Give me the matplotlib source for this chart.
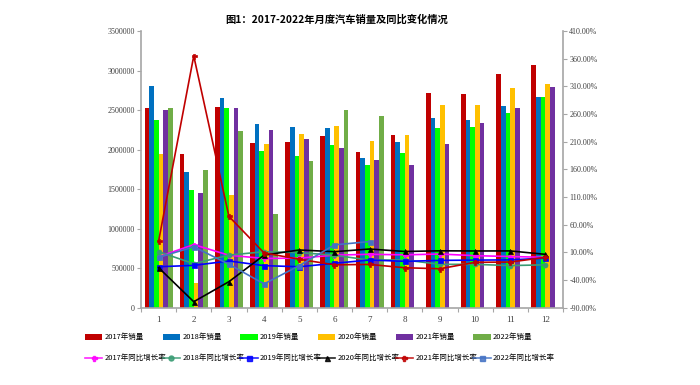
import matplotlib
matplotlib.use("Agg")
import matplotlib.pyplot as plt
import numpy as np
from matplotlib.patches import Patch
from matplotlib.lines import Line2D
from matplotlib.ticker import FuncFormatter, FixedLocator

plt.rcParams['font.family'] = ['Noto Sans CJK SC', 'DejaVu Sans']

months = [str(m) for m in range(1, 13)]

sales_2017 = [2520000, 1940000, 2540000, 2080000, 2096000, 2170000, 1973000, 2185000, 2710000, 2700000, 2955000, 3065000]
sales_2018 = [2808000, 1720000, 2650000, 2320000, 2290000, 2270000, 1890000, 2100000, 2400000, 2380000, 2550000, 2665000]
sales_2019 = [2370000, 1485000, 2520000, 1980000, 1915000, 2060000, 1810000, 1960000, 2270000, 2290000, 2460000, 2665000]
sales_2020 = [1940000, 312000, 1430000, 2070000, 2197000, 2300000, 2110000, 2185000, 2560000, 2570000, 2775000, 2830000]
sales_2021 = [2504000, 1455000, 2530000, 2250000, 2130000, 2020000, 1865000, 1800000, 2070000, 2330000, 2520000, 2790000]
sales_2022 = [2530000, 1738000, 2235000, 1180000, 1860000, 2500000, 2420000]

growth_2017 = [2.0, 24.0, 4.8, -1.0, -0.5, 5.0, 6.5, 5.5, 7.0, 4.0, 2.5, 1.0]
growth_2018 = [11.2, -10.5, 5.0, 11.2, 9.6, 4.8, -4.0, -3.8, -11.6, -11.7, -13.9, -12.5]
growth_2019 = [-16.0, -13.5, -5.6, -14.0, -16.0, -9.8, -3.8, -6.2, -4.5, -4.0, -3.6, -0.5]
growth_2020 = [-17.7, -79.2, -43.0, 5.0, 14.3, 11.2, 16.0, 11.6, 12.8, 12.5, 12.6, 6.4]
growth_2021 = [30.0, 365.0, 75.0, 9.0, -2.5, -12.5, -11.8, -17.8, -19.6, -8.0, -7.5, 1.0]
growth_2022 = [0.9, 20.0, -11.5, -47.0, -14.0, 23.5, 29.5]

years = ['2017', '2018', '2019', '2020', '2021', '2022']
sales = [sales_2017, sales_2018, sales_2019, sales_2020, sales_2021, sales_2022]
growths = [growth_2017, growth_2018, growth_2019, growth_2020, growth_2021, growth_2022]
bar_colors = ['#C00000', '#0070C0', '#00FF00', '#FFC000', '#7030A0', '#70AD47']
line_colors = ['#FF00FF', '#3A9C74', '#0000FF', '#000000', '#C00000', '#4472C4']
line_markers = ['P', 'o', 's', '^', 'P', 's']

fig = plt.figure(figsize=(7, 3.85), dpi=100)
ax = fig.add_axes([141/700, 1-307.7/385, (563-141)/700, (307.7-31)/385])
ax2 = ax.twinx()

x = np.arange(1, 13)
n = len(years)
group = 0.8
bw = group / n
for i, (yr, s, c) in enumerate(zip(years, sales, bar_colors)):
    xs = x[:len(s)] - group/2 + bw*(i+0.5)
    ax.bar(xs, s, width=bw, color=c, linewidth=0, zorder=2)

for yr, g, c, m in zip(years, growths, line_colors, line_markers):
    ax2.plot(x[:len(g)], g, color=c, marker=m, markersize=3.6, linewidth=1.2,
             markeredgewidth=0.5, zorder=3)

ax.set_xlim(0.5, 12.5)
ax.set_ylim(0, 3500000)
ax2.set_ylim(-90, 410)
ax.set_yticks(np.arange(0, 3500001, 500000))
ax2.set_yticks(np.arange(-90, 411, 50))
ax.yaxis.set_major_formatter(FuncFormatter(lambda v, p: f"{int(v)}"))
ax2.yaxis.set_major_formatter(FuncFormatter(lambda v, p: f"{v:.2f}%"))

ax.xaxis.set_major_locator(FixedLocator(np.arange(0.5, 12.6, 1)))
ax.xaxis.set_minor_locator(FixedLocator(x))
ax.set_xticklabels([])
ax.set_xticklabels(months, minor=True)
ax.tick_params(axis='x', which='major', length=3, color='#A6A6A6', width=0.8)
ax.tick_params(axis='x', which='minor', length=0, pad=6)

tick_font = dict(family='Liberation Serif', size=5.8)
for lab in ax.get_yticklabels() + ax2.get_yticklabels() + ax.get_xticklabels(minor=True):
    lab.set_fontfamily('Liberation Serif')
    lab.set_fontsize(5.8)
    lab.set_color('#404040')
for lab in ax.get_xticklabels(minor=True):
    lab.set_fontsize(6.5)

ax.tick_params(axis='y', length=3, color='#A6A6A6', width=0.8, pad=1.5)
ax2.tick_params(axis='y', length=3, color='#A6A6A6', width=0.8, pad=1.5)

for a in (ax, ax2):
    a.spines['top'].set_visible(False)
    for s in ('left', 'right', 'bottom'):
        a.spines[s].set_color('#A6A6A6')
        a.spines[s].set_linewidth(1.2)
ax.spines['right'].set_visible(False)
ax2.spines['left'].set_visible(False)
ax2.spines['bottom'].set_visible(False)

fig.text(337/700, 1-20/385, '图1：2017-2022年月度汽车销量及同比变化情况', ha='center', va='center',
         fontsize=7.4, fontweight='bold')

pitch = 77.7
for i, (yr, c) in enumerate(zip(years, bar_colors)):
    h = Patch(facecolor=c, edgecolor='none')
    leg = fig.legend([h], [f'{yr}年销量'], loc='center left',
                     bbox_to_anchor=((85 + i*pitch)/700, 1-337.5/385),
                     frameon=False, fontsize=5.4, borderpad=0, borderaxespad=0,
                     handlelength=2.3, handleheight=1.0, handletextpad=0.3)
for i, (yr, c, m) in enumerate(zip(years, line_colors, line_markers)):
    h = Line2D([], [], color=c, marker=m, markersize=3.6, linewidth=1.2, alpha=0.85)
    leg = fig.legend([h], [f'{yr}年同比增长率'], loc='center left',
                     bbox_to_anchor=((85 + i*pitch)/700, 1-358.3/385),
                     frameon=False, fontsize=5.4, borderpad=0, borderaxespad=0,
                     handlelength=2.3, handletextpad=0.3)

fig.savefig('out.png', dpi=100)
